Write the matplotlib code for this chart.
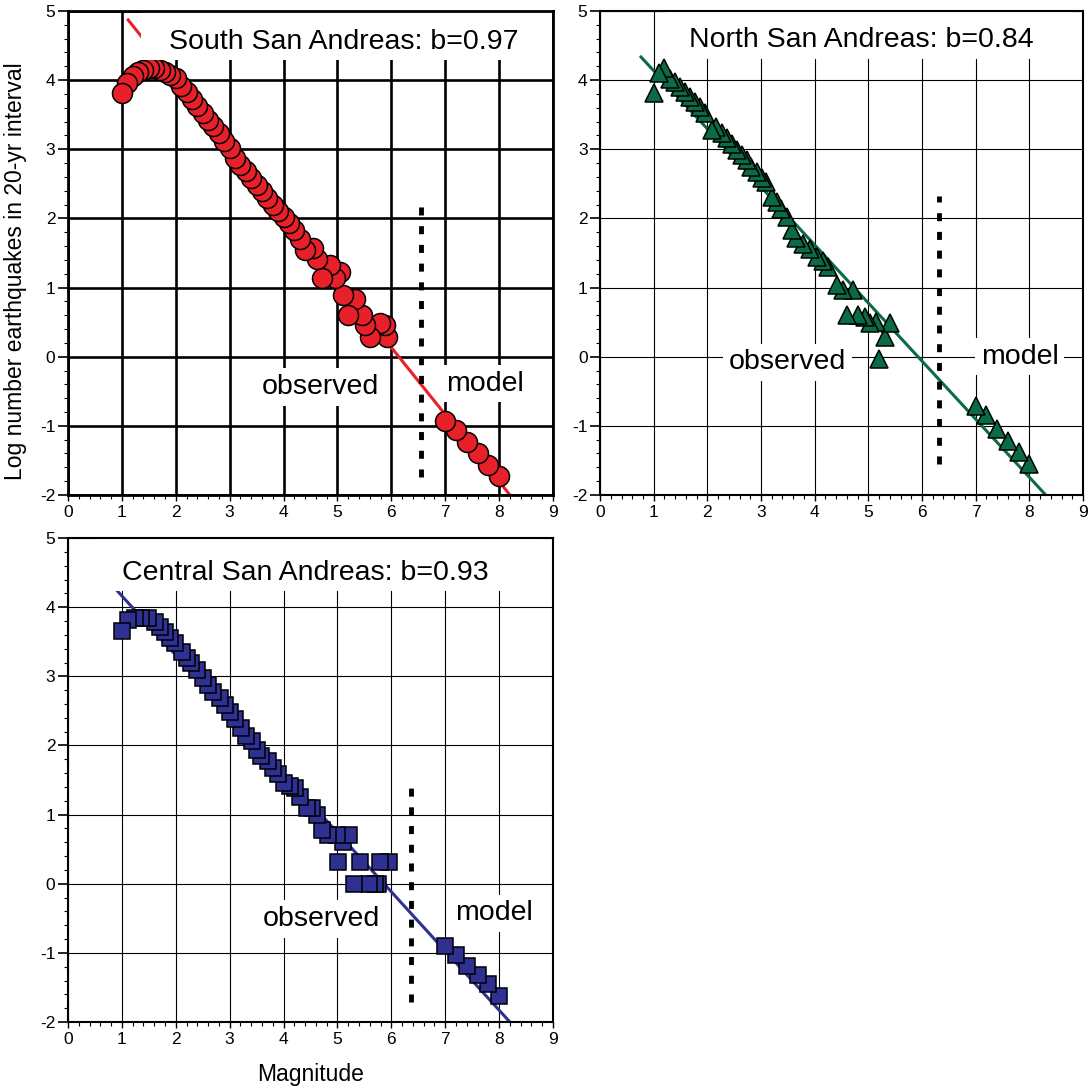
import matplotlib
matplotlib.use('Agg')
import matplotlib.pyplot as plt
import numpy as np
from matplotlib.ticker import MultipleLocator
from matplotlib.patches import Rectangle

plt.rcParams['font.family'] = ['Liberation Sans', 'DejaVu Sans']
plt.rcParams['axes.unicode_minus'] = False

# South San Andreas (observed + model)
south_mag = [1.0, 1.1, 1.2, 1.3, 1.4, 1.5, 1.6, 1.7, 1.8, 1.9,
             2.0, 2.1, 2.2, 2.3, 2.4, 2.5, 2.6, 2.7, 2.8, 2.9,
             3.0, 3.1, 3.2, 3.3, 3.4, 3.5, 3.6, 3.7, 3.8, 3.9,
             4.0, 4.1, 4.2, 4.3, 4.4, 4.55, 4.62, 4.71, 4.86, 4.96,
             5.05, 5.11, 5.2, 5.33, 5.45, 5.51, 5.61, 5.79, 5.89, 5.92]
south_log = [3.82, 3.96, 4.06, 4.12, 4.15, 4.17, 4.17, 4.15, 4.12, 4.08,
             4.03, 3.92, 3.83, 3.73, 3.63, 3.53, 3.43, 3.34, 3.23, 3.12,
             3.02, 2.88, 2.77, 2.68, 2.58, 2.48, 2.39, 2.29, 2.19, 2.10,
             2.02, 1.93, 1.83, 1.70, 1.55, 1.57, 1.42, 1.14, 1.33, 1.14,
             1.23, 0.89, 0.60, 0.84, 0.60, 0.46, 0.29, 0.48, 0.46, 0.29]
south_model_mag = [7.0, 7.2, 7.4, 7.6, 7.8, 8.0]
south_model_log = [-0.93, -1.06, -1.23, -1.40, -1.56, -1.73]
south_b, south_a = 0.97, 5.954
south_fit_range = (1.1, 8.2)
south_cut = 6.55

# North San Andreas
north_mag = [1.0, 1.09, 1.2, 1.3, 1.4, 1.49, 1.58, 1.68, 1.77, 1.86,
             1.96, 2.08, 2.17, 2.27, 2.36, 2.45, 2.55, 2.64, 2.73, 2.82,
             2.92, 3.01, 3.1, 3.2, 3.29, 3.38, 3.48, 3.57, 3.66, 3.79,
             3.91, 4.04, 4.16, 4.25, 4.41, 4.53, 4.72, 4.6, 4.81, 4.94,
             5.03, 5.15, 5.4, 5.31, 5.2]
north_log = [3.81, 4.10, 4.17, 4.02, 3.98, 3.90, 3.83, 3.76, 3.69, 3.61,
             3.52, 3.28, 3.32, 3.23, 3.16, 3.08, 2.99, 2.91, 2.84, 2.75,
             2.67, 2.58, 2.53, 2.31, 2.24, 2.14, 2.02, 1.83, 1.71, 1.63,
             1.56, 1.44, 1.39, 1.30, 1.03, 0.96, 0.96, 0.60, 0.60, 0.57,
             0.48, 0.50, 0.48, 0.28, -0.03]
north_model_mag = [7.0, 7.2, 7.4, 7.6, 7.8, 8.0]
north_model_log = [-0.71, -0.85, -1.05, -1.22, -1.38, -1.55]
north_b, north_a = 0.84, 4.976
north_fit_range = (0.745, 8.305)
north_cut = 6.32

# Central San Andreas
central_mag = [1.0, 1.12, 1.24, 1.36, 1.49, 1.61, 1.70, 1.80, 1.89, 1.98,
               2.11, 2.20, 2.29, 2.39, 2.51, 2.60, 2.70, 2.82, 2.91, 3.0,
               3.10, 3.22, 3.31, 3.41, 3.50, 3.59, 3.72, 3.81, 3.90, 4.0,
               4.12, 4.21, 4.31, 4.43, 4.52, 4.62, 4.71, 4.83, 4.99, 5.21,
               5.11, 5.02, 5.42, 5.79, 5.95, 5.30, 5.58, 5.70, 5.76]
central_log = [3.66, 3.82, 3.85, 3.85, 3.85, 3.79, 3.72, 3.64, 3.56, 3.48,
               3.35, 3.27, 3.19, 3.09, 2.98, 2.88, 2.77, 2.69, 2.59, 2.48,
               2.38, 2.25, 2.14, 2.06, 1.93, 1.85, 1.78, 1.67, 1.59, 1.46,
               1.41, 1.38, 1.25, 1.09, 1.09, 0.99, 0.78, 0.70, 0.70, 0.70,
               0.60, 0.31, 0.31, 0.31, 0.31, 0.0, 0.0, 0.0, 0.0]
central_model_mag = [7.0, 7.2, 7.4, 7.6, 7.8, 8.0]
central_model_log = [-0.90, -1.03, -1.19, -1.32, -1.45, -1.63]
central_b, central_a = 0.856, 5.02
central_fit_range = (0.6, 8.2)
central_cut = 6.36

red = '#E8202A'
green = '#0B6B45'
blue = '#2E3192'


def style_axes(ax, grid_lw, spine_lw):
    ax.set_xlim(0, 9)
    ax.set_ylim(-2, 5)
    ax.set_xticks(range(0, 10))
    ax.set_yticks(range(-2, 6))
    ax.xaxis.set_minor_locator(MultipleLocator(0.2))
    ax.yaxis.set_minor_locator(MultipleLocator(0.2))
    ax.tick_params(which='major', axis='y', length=7, width=1.2, labelsize=12.5, pad=2)
    ax.tick_params(which='major', axis='x', length=4, width=1.0, labelsize=12.5, pad=3)
    ax.tick_params(which='minor', length=3, width=0.8)
    ax.grid(True, which='major', color='black', lw=grid_lw)
    ax.set_axisbelow(True)
    for s in ax.spines.values():
        s.set_linewidth(spine_lw)
        s.set_zorder(8)


def draw_panel(ax, mag, logn, model_mag, model_log, a, b, fit_range, cut, cut_top, cut_bottom,
               color, marker, ms, title, title_xy, title_box, obs_xy, model_xy):
    fx = np.array(fit_range)
    ax.plot(fx, a - b * fx, color=color, lw=2.2, zorder=2, solid_capstyle='butt')
    all_mag = list(mag) + list(model_mag)
    all_log = list(logn) + list(model_log)
    # lower magnitudes end up on top
    ax.plot(all_mag[::-1], all_log[::-1], ls='none', marker=marker, ms=ms,
            mfc=color, mec='black', mew=1.1, zorder=3)
    ax.plot([cut, cut], [cut_bottom, cut_top], color='black', lw=3.5,
            ls=(0, (1.65, 2.2)), zorder=4)
    ax.add_patch(Rectangle((title_box[0], title_box[1]), title_box[2], title_box[3],
                           fc='white', ec='none', zorder=5))
    ax.text(title_xy[0], title_xy[1], title, ha='center', va='center', fontsize=20.5, zorder=6)
    box = dict(facecolor='white', edgecolor='none', pad=4)
    ax.text(obs_xy[0], obs_xy[1], 'observed', ha='center', va='center', fontsize=20.5,
            bbox=box, zorder=6)
    ax.text(model_xy[0], model_xy[1], 'model', ha='center', va='center', fontsize=20.5,
            bbox=box, zorder=6)


fig = plt.figure(figsize=(10.89, 10.89), dpi=100)
ax_s = fig.add_axes([0.0624, 0.5455, 0.4454, 0.4444])
ax_n = fig.add_axes([0.5510, 0.5455, 0.4435, 0.4444])
ax_c = fig.add_axes([0.0624, 0.0615, 0.4454, 0.4444])

style_axes(ax_s, 1.9, 2.0)
style_axes(ax_n, 0.8, 1.5)
style_axes(ax_c, 0.8, 1.5)

draw_panel(ax_s, south_mag, south_log, south_model_mag, south_model_log,
           south_a, south_b, south_fit_range, south_cut, 2.30, -1.74,
           red, 'o', 14.4, 'South San Andreas: b=0.97', (5.12, 4.55),
           (1.36, 4.29, 7.62, 0.71), (4.68, -0.44), (7.73, -0.39))
draw_panel(ax_n, north_mag, north_log, north_model_mag, north_model_log,
           north_a, north_b, north_fit_range, north_cut, 2.33, -1.55,
           green, '^', 13, 'North San Andreas: b=0.84', (4.87, 4.58),
           (1.25, 4.31, 7.5, 0.69), (3.49, -0.08), (7.82, 0.0))
draw_panel(ax_c, central_mag, central_log, central_model_mag, central_model_log,
           central_a, central_b, central_fit_range, central_cut, 1.46, -1.71,
           blue, 's', 12, 'Central San Andreas: b=0.93', (4.40, 4.50),
           (0.5, 4.24, 8.3, 0.76), (4.71, -0.51), (7.90, -0.43))

ax_s.set_ylabel('Log number earthquakes in 20-yr interval', fontsize=16.5, labelpad=6)
ax_s.yaxis.set_label_coords(-0.085, 0.463)
ax_c.set_xlabel('Magnitude', fontsize=16.5, labelpad=12)

fig.savefig('out.png', dpi=100)
